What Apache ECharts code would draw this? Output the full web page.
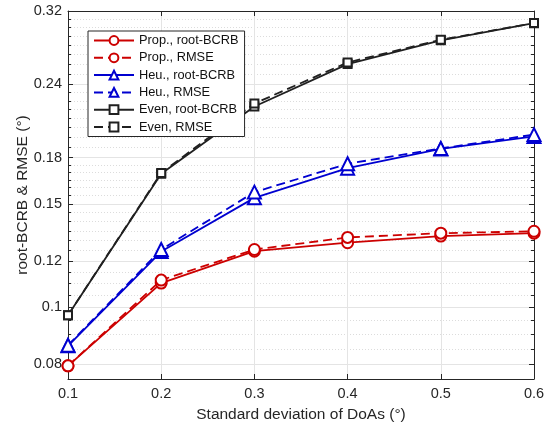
<!DOCTYPE html>
<html>
<head>
<meta charset="utf-8">
<script src="https://cdn.jsdelivr.net/npm/echarts@6/dist/echarts.min.js"></script>
<style>html,body{margin:0;padding:0;background:#fff}#c{width:554px;height:428px}</style>
</head>
<body>
<div id="c"></div>
<script>
const xValues = [0.1, 0.2, 0.3, 0.4, 0.5, 0.6];
const propBCRB = [0.0795, 0.1100, 0.1247, 0.1289, 0.1323, 0.1338];
const propRMSE = [0.0795, 0.1113, 0.1255, 0.1316, 0.1338, 0.1348];
const heuBCRB  = [0.0860, 0.1245, 0.1537, 0.1727, 0.1862, 0.1956];
const heuRMSE  = [0.0862, 0.1255, 0.1572, 0.1757, 0.1866, 0.1970];
const evenBCRB = [0.0970, 0.1689, 0.2200, 0.2598, 0.2852, 0.3050];
const evenRMSE = [0.0970, 0.1695, 0.2225, 0.2615, 0.2858, 0.3052];
const yMajorTicks = [0.08, 0.1, 0.12, 0.15, 0.18, 0.24, 0.32];
const yMinorTicks = [0.085, 0.09, 0.095, 0.105, 0.11, 0.115,
  0.125, 0.13, 0.135, 0.14, 0.145, 0.155, 0.16, 0.165, 0.17, 0.175,
  0.1875, 0.195, 0.2025, 0.21, 0.2175, 0.225, 0.2325,
  0.25, 0.26, 0.27, 0.28, 0.29, 0.30, 0.31];
const xTicks = [0.1, 0.2, 0.3, 0.4, 0.5, 0.6];
const names = ['Prop., root-BCRB', 'Prop., RMSE', 'Heu., root-BCRB', 'Heu., RMSE', 'Even, root-BCRB', 'Even, RMSE'];

const RED = '#cc0000', BLUE = '#0000d0', BLACK = '#202020';
const AX = '#262626';
const FONT = 'Liberation Sans';
const TICK_FS = 14.5, TITLE_FS = 15.5;
const yMin = 0.0755, yMax = 0.32;

function pairs(ys) { return xValues.map((x, i) => [x, ys[i]]); }

const chart = echarts.init(document.getElementById('c'), null, {renderer: 'canvas'});

function yAxisDef(pos, vals, len, showLabel, splitType, showLine, name) {
  return {
    type: 'log', logBase: 10, min: yMin, max: yMax, position: pos,
    name: name || '', nameLocation: 'middle', nameGap: 37, nameMoveOverlap: false,
    nameTextStyle: {fontFamily: FONT, fontSize: TITLE_FS, color: AX},
    axisLine: {show: showLine, lineStyle: {color: AX, width: 1}},
    axisTick: {show: true, inside: true, length: len, customValues: vals, lineStyle: {color: AX, width: 1}},
    axisLabel: {show: showLabel, customValues: vals, fontFamily: FONT, fontSize: TICK_FS, color: AX, margin: 6,
      formatter: v => String(+(+v).toFixed(3))},
    splitLine: splitType ? {show: true, lineStyle: {color: splitType === 'solid' ? '#e4e4e4' : '#dcdcdc', type: splitType === 'solid' ? 'solid' : [1, 2], width: 1}} : {show: false},
    minorTick: {show: false}, minorSplitLine: {show: false}
  };
}

const option = {
  animation: false,
  backgroundColor: '#ffffff',
  grid: {left: 68, right: 20, top: 11, bottom: 49, containLabel: false, show: false},
  legend: {
    left: 88, top: 31, orient: 'vertical',
    backgroundColor: '#ffffff', borderColor: AX, borderWidth: 1,
    padding: [3, 6, 3, 5], itemWidth: 40, itemHeight: 11, itemGap: 4.3,
    textStyle: {fontFamily: FONT, fontSize: 12.8, color: '#111'},
    data: names
  },
  xAxis: [{
    type: 'value', min: 0.1, max: 0.6, interval: 0.1, position: 'bottom',
    name: 'Standard deviation of DoAs (°)', nameLocation: 'middle', nameGap: 28, nameMoveOverlap: false,
    nameTextStyle: {fontFamily: FONT, fontSize: TITLE_FS, color: AX},
    axisLine: {show: true, lineStyle: {color: AX, width: 1}},
    axisTick: {show: true, inside: true, length: 5, lineStyle: {color: AX}},
    axisLabel: {fontFamily: FONT, fontSize: TICK_FS, color: AX, margin: 7, formatter: v => (+v).toFixed(1)},
    splitLine: {show: true, lineStyle: {color: '#e4e4e4', width: 1}}
  }, {
    type: 'value', min: 0.1, max: 0.6, interval: 0.1, position: 'top',
    axisLine: {show: true, lineStyle: {color: AX, width: 1}},
    axisTick: {show: true, inside: true, length: 5, lineStyle: {color: AX}},
    axisLabel: {show: false}, splitLine: {show: false}
  }],
  yAxis: [
    yAxisDef('left', yMajorTicks, 5, true, 'solid', true, 'root-BCRB & RMSE (°)'),
    yAxisDef('left', yMinorTicks, 3, false, 'dotted', false),
    yAxisDef('right', yMajorTicks, 5, false, null, true),
    yAxisDef('right', yMinorTicks, 3, false, null, false)
  ],
  series: [
    {name: names[0], data: pairs(propBCRB), color: RED, symbol: 'emptyCircle', symbolSize: 11, lineStyle: {type: 'solid'}},
    {name: names[1], data: pairs(propRMSE), color: RED, symbol: 'emptyCircle', symbolSize: 11, lineStyle: {type: [9, 5]}},
    {name: names[2], data: pairs(heuBCRB), color: BLUE, symbol: 'emptyTriangle', symbolSize: 13, lineStyle: {type: 'solid'}},
    {name: names[3], data: pairs(heuRMSE), color: BLUE, symbol: 'emptyTriangle', symbolSize: 13, lineStyle: {type: [9, 5]}},
    {name: names[4], data: pairs(evenBCRB), color: BLACK, symbol: 'emptyRect', symbolSize: 8, lineStyle: {type: 'solid'}},
    {name: names[5], data: pairs(evenRMSE), color: BLACK, symbol: 'emptyRect', symbolSize: 8, lineStyle: {type: [9, 5]}}
  ].map(s => Object.assign({
    type: 'line', xAxisIndex: 0, yAxisIndex: 0, showSymbol: true,
    itemStyle: {color: s.color, borderWidth: 1.8},
    z: 3
  }, s, {lineStyle: Object.assign({width: 1.8, color: s.color}, s.lineStyle)}))
};
chart.setOption(option);
</script>
</body>
</html>
